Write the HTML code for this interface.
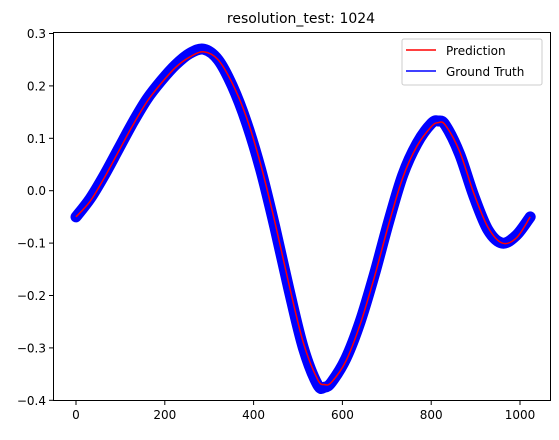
<!DOCTYPE html>
<html><head><meta charset="utf-8"><style>
body{margin:0;background:#fff;width:559px;height:435px;overflow:hidden}
svg{font-family:"DejaVu Sans","Liberation Sans",sans-serif}
</style></head><body>
<svg id="chart" width="559" height="435" xmlns="http://www.w3.org/2000/svg">
<text x="301" y="23" font-size="14" text-anchor="middle">resolution_test: 1024</text>
<g id="marks"></g>
<rect x="53.5" y="32.5" width="497" height="368" fill="none" stroke="#000" stroke-width="1"/>
<g id="axes"></g>
<g>
<rect x="402" y="39" width="140" height="46" rx="2" fill="#fff" fill-opacity="0.8" stroke="#ccc"/>
<line x1="406" y1="50" x2="436" y2="50" stroke="red" stroke-width="1.5"/>
<text x="446" y="55" font-size="12">Prediction</text>
<line x1="406" y1="71" x2="436" y2="71" stroke="blue" stroke-width="1.5"/>
<text x="446" y="76" font-size="12">Ground Truth</text>
</g>
</svg>
<script>
const xs   = [0,32,64,96,128,160,192,224,256,288,320,352,384,416,448,480,512,544,560,576,608,640,672,704,736,768,800,816,832,864,896,928,960,992,1023];
const truth= [-0.05,-0.015,0.03,0.08,0.13,0.175,0.21,0.24,0.262,0.27,0.25,0.20,0.13,0.04,-0.07,-0.19,-0.30,-0.37,-0.375,-0.365,-0.32,-0.25,-0.16,-0.06,0.03,0.09,0.128,0.133,0.125,0.07,-0.01,-0.075,-0.10,-0.085,-0.05];
const pred = [-0.05,-0.02,0.025,0.075,0.125,0.17,0.205,0.235,0.255,0.265,0.25,0.205,0.14,0.05,-0.06,-0.18,-0.29,-0.36,-0.37,-0.365,-0.325,-0.255,-0.165,-0.065,0.025,0.085,0.122,0.13,0.125,0.075,-0.005,-0.07,-0.10,-0.09,-0.05];
const xTicks=[0,200,400,600,800,1000];
const yTicks=[-0.4,-0.3,-0.2,-0.1,0.0,0.1,0.2,0.3];
const X=v=>76+v*0.444;
const Y=v=>190.7-v*524;
const NS="http://www.w3.org/2000/svg";
function pathD(a,b){
  const p=a.map((x,i)=>[X(x),Y(b[i])]);
  let d="M"+p[0][0]+","+p[0][1];
  for(let i=0;i<p.length-1;i++){
    const p0=p[i-1]||p[i],p1=p[i],p2=p[i+1],p3=p[i+2]||p[i+1];
    d+=" C"+(p1[0]+(p2[0]-p0[0])/6)+","+(p1[1]+(p2[1]-p0[1])/6)+" "+(p2[0]-(p3[0]-p1[0])/6)+","+(p2[1]-(p3[1]-p1[1])/6)+" "+p2[0]+","+p2[1];
  }
  return d;
}
const m=document.getElementById("marks");
const gt=document.createElementNS(NS,"path");


gt.setAttribute("d",pathD(xs,truth));gt.setAttribute("fill","none");gt.setAttribute("stroke","blue");gt.setAttribute("stroke-width","11");gt.setAttribute("stroke-linecap","round");gt.setAttribute("stroke-linejoin","round");
m.appendChild(gt);
const pr=document.createElementNS(NS,"path");


pr.setAttribute("d",pathD(xs,pred));pr.setAttribute("fill","none");pr.setAttribute("stroke","red");pr.setAttribute("stroke-width","1.5");
m.appendChild(pr);
const ax=document.getElementById("axes");
xTicks.forEach(t=>{
  const l=document.createElementNS(NS,"line");
  
  
  l.setAttribute("x1",X(t));l.setAttribute("x2",X(t));l.setAttribute("y1",401);l.setAttribute("y2",405);l.setAttribute("stroke","#000");
  ax.appendChild(l);
  const tx=document.createElementNS(NS,"text");
  
  
  tx.setAttribute("x",X(t));tx.setAttribute("y",419);tx.setAttribute("font-size","12");tx.setAttribute("text-anchor","middle");
  tx.textContent=t;ax.appendChild(tx);
});
yTicks.forEach(t=>{
  const l=document.createElementNS(NS,"line");
  
  
  l.setAttribute("x1",49);l.setAttribute("x2",53.5);l.setAttribute("y1",Y(t));l.setAttribute("y2",Y(t));l.setAttribute("stroke","#000");
  ax.appendChild(l);
  const tx=document.createElementNS(NS,"text");
  
  
  tx.setAttribute("x",46);tx.setAttribute("y",Y(t)+4.5);tx.setAttribute("font-size","12");tx.setAttribute("text-anchor","end");
  tx.textContent=(t<0?"\u2212":"")+Math.abs(t).toFixed(1);ax.appendChild(tx);
});
</script>
</body></html>
